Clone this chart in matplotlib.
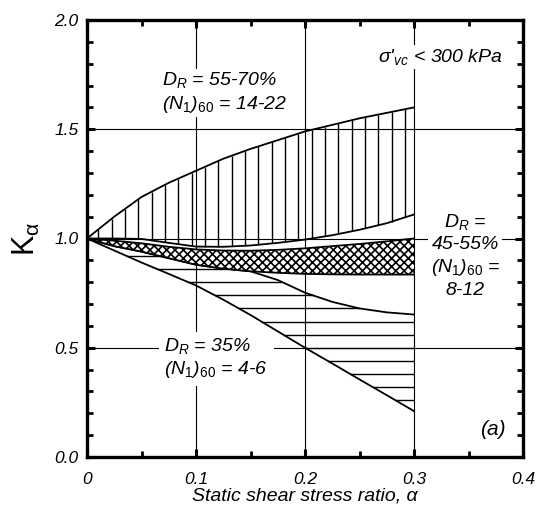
import matplotlib
matplotlib.use('Agg')
import matplotlib.pyplot as plt
import numpy as np

matplotlib.rcParams['font.family'] = ['Liberation Sans', 'DejaVu Sans']
matplotlib.rcParams['mathtext.fontset'] = 'custom'
matplotlib.rcParams['mathtext.rm'] = 'Liberation Sans'
matplotlib.rcParams['mathtext.it'] = 'Liberation Sans:italic'
matplotlib.rcParams['mathtext.bf'] = 'Liberation Sans:bold'
matplotlib.rcParams['hatch.linewidth'] = 1.2

# ---- K_alpha bands vs static shear stress ratio ----
alpha = [0, 0.025, 0.05, 0.075, 0.1, 0.125, 0.15, 0.175, 0.2, 0.225, 0.25, 0.275, 0.3]

# D_R = 55-70 %  (vertical hatch)
dense_top = [1.0, 1.10, 1.19, 1.255, 1.31, 1.365, 1.41, 1.45, 1.49, 1.52, 1.55, 1.575, 1.60]
dense_bot = [1.0, 1.0, 0.998, 0.98, 0.963, 0.962, 0.968, 0.98, 0.995, 1.015, 1.04, 1.07, 1.11]

# D_R = 45-55 %  (cross hatch)
medium_top = [1.0, 0.99, 0.978, 0.962, 0.95, 0.945, 0.944, 0.948, 0.955, 0.965, 0.975, 0.987, 1.0]
medium_bot = [1.0, 0.965, 0.94, 0.91, 0.88, 0.862, 0.85, 0.843, 0.838, 0.836, 0.835, 0.835, 0.835]

# D_R = 35 %  (horizontal hatch)
loose_top = [1.0, 0.965, 0.94, 0.91, 0.88, 0.862, 0.85, 0.81, 0.752, 0.71, 0.68, 0.662, 0.652]
loose_bot = [1.0, 0.945, 0.89, 0.838, 0.785, 0.72, 0.65, 0.575, 0.5, 0.428, 0.355, 0.283, 0.21]

xticks = [0, 0.1, 0.2, 0.3, 0.4]
xtick_labels = ['0', '0.1', '0.2', '0.3', '0.4']
yticks = [0.0, 0.5, 1.0, 1.5, 2.0]
ytick_labels = ['0.0', '0.5', '1.0', '1.5', '2.0']

a = np.array(alpha)
W, H = 538, 518
fig = plt.figure(figsize=(W / 100, H / 100), dpi=100)
ax = fig.add_axes([87 / W, 1 - 457 / H, (523 - 87) / W, (457 - 20) / H])

ax.set_xlim(0, 0.4)
ax.set_ylim(0, 2.0)
ax.grid(True, which='major', color='black', lw=0.8, zorder=0)
ax.set_axisbelow(True)

lw_curve = 1.3
lw_hatch = 1.0

# vertical hatching, 55-70 %
vx = np.arange(0.0105, 0.3, 0.01223)
ax.vlines(vx, np.interp(vx, a, dense_bot), np.interp(vx, a, dense_top),
          color='black', lw=lw_hatch, zorder=2)
ax.plot(a, dense_top, color='black', lw=lw_curve, zorder=3)
ax.plot(a, dense_bot, color='black', lw=lw_curve, zorder=3)

# horizontal hatching, 35 %
hy = np.arange(0.92, 0.2, -0.06)
left = np.interp(hy, np.array(loose_bot)[::-1], a[::-1])
right = np.minimum(np.interp(hy, np.array(loose_top)[::-1], a[::-1]), 0.3)
right = np.where(hy < loose_top[-1], 0.3, right)
ax.hlines(hy, left, right, color='black', lw=lw_hatch, zorder=2)
ax.plot(a, loose_top, color='black', lw=lw_curve, zorder=3)
ax.plot(a, loose_bot, color='black', lw=lw_curve, zorder=3)

# cross hatching, 45-55 %
ax.fill_between(a, medium_bot, medium_top, facecolor='white', edgecolor='black',
                hatch='xxxx', lw=0, zorder=4)
ax.plot(a, medium_top, color='black', lw=lw_curve, zorder=5)
ax.plot(a, medium_bot, color='black', lw=lw_curve, zorder=5)

# axes styling
ax.set_xticks(xticks)
ax.set_xticklabels(xtick_labels)
ax.set_yticks(yticks)
ax.set_yticklabels(ytick_labels)
ax.set_xticks(np.arange(0.05, 0.4, 0.1), minor=True)
ax.set_yticks(np.arange(0.1, 2.0, 0.1), minor=True)
ax.tick_params(which='both', direction='in', top=True, right=True, color='black')
ax.tick_params(which='major', length=6, width=2.2, labelsize=12.5)
ax.tick_params(axis='x', which='major', pad=11)
ax.tick_params(axis='y', which='major', pad=6)
ax.tick_params(which='minor', length=4, width=2.0)
for lab in ax.get_xticklabels() + ax.get_yticklabels():
    lab.set_fontstyle('italic')
for sp in ax.spines.values():
    sp.set_linewidth(2.4)
    sp.set_zorder(10)

ax.set_xlabel('Static shear stress ratio, α', fontsize=14, fontstyle='italic', labelpad=0)
ax.set_ylabel('K$_{\\mathrm{α}}$', fontsize=22, labelpad=9)

box = dict(facecolor='white', edgecolor='none', pad=1.5)
tkw = dict(fontsize=14, fontstyle='italic', zorder=8, bbox=box)

ax.text(0.324, 1.83, "σ'$_{vc}$ < 300 kPa", ha='center', va='center', **tkw)
ax.text(0.069, 1.668, "$D_R$ = 55-70%\n(N$_{\\mathit{1}}$)$_{\\mathit{60}}$ = 14-22",
        ha='left', va='center', linespacing=1.25, **tkw)
ax.text(0.347, 0.922, "$D_R$ =\n45-55%\n(N$_{\\mathit{1}}$)$_{\\mathit{60}}$ =\n8-12",
        ha='center', va='center', linespacing=1.3, multialignment='center', **tkw)
ax.text(0.071, 0.452, "$D_R$ = 35%\n(N$_{\\mathit{1}}$)$_{\\mathit{60}}$ = 4-6",
        ha='left', va='center', linespacing=1.2,
        **dict(tkw, bbox=dict(facecolor='white', edgecolor='none', pad=4)))
ax.text(0.372, 0.124, '(a)', ha='center', va='center', fontsize=15, fontstyle='italic', zorder=8)

fig.savefig('out.png', dpi=100)
